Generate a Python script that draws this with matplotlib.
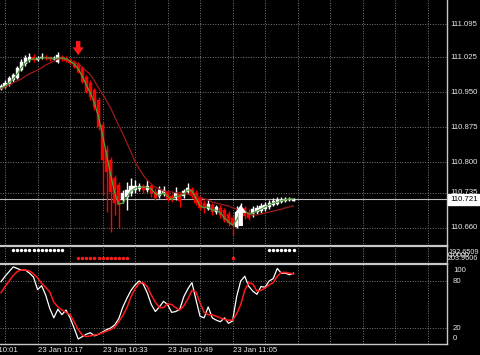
import matplotlib
matplotlib.use('Agg')
import matplotlib.pyplot as plt
from matplotlib.transforms import blended_transform_factory
import numpy as np

plt.rcParams['font.family'] = ['Liberation Sans', 'DejaVu Sans']

# ---------------- data (1-minute bars, 23 Jan 10:08 ... 11:20) ----------------
open_ = [110.957, 110.961, 110.967, 110.976, 110.980, 110.997, 111.010, 111.019, 111.025, 111.019,
         111.023, 111.025, 111.023, 111.021, 111.014, 111.025, 111.023, 111.019, 111.014, 111.010,
         111.002, 110.982, 110.970, 110.955, 110.933, 110.880, 110.826, 110.805, 110.767, 110.752,
         110.720, 110.726, 110.735, 110.741, 110.743, 110.750, 110.741, 110.750, 110.737, 110.728,
         110.733, 110.737, 110.728, 110.724, 110.733, 110.728, 110.737, 110.743, 110.735, 110.724,
         110.713, 110.700, 110.709, 110.694, 110.703, 110.698, 110.690, 110.681, 110.662, 110.690,
         110.703, 110.692, 110.688, 110.694, 110.696, 110.700, 110.705, 110.709, 110.711, 110.715,
         110.718, 110.720, 110.718]
high = [110.967, 110.976, 110.984, 110.991, 111.006, 111.021, 111.029, 111.034, 111.031, 111.027,
        111.034, 111.029, 111.027, 111.027, 111.036, 111.029, 111.027, 111.023, 111.019, 111.014,
        111.006, 110.987, 110.976, 110.959, 110.940, 110.886, 110.837, 110.811, 110.773, 110.758,
        110.741, 110.758, 110.767, 110.762, 110.756, 110.754, 110.762, 110.754, 110.745, 110.750,
        110.750, 110.741, 110.733, 110.747, 110.737, 110.743, 110.756, 110.747, 110.741, 110.728,
        110.720, 110.720, 110.713, 110.709, 110.709, 110.703, 110.696, 110.688, 110.707, 110.713,
        110.707, 110.700, 110.707, 110.709, 110.713, 110.715, 110.720, 110.724, 110.726, 110.726,
        110.726, 110.726, 110.724]
low = [110.955, 110.959, 110.963, 110.972, 110.978, 110.995, 111.006, 111.014, 111.014, 111.016,
       111.021, 111.019, 111.016, 111.019, 111.012, 111.016, 111.014, 111.010, 111.002, 110.991,
       110.970, 110.948, 110.933, 110.912, 110.869, 110.730, 110.694, 110.651, 110.688, 110.660,
       110.713, 110.698, 110.728, 110.735, 110.739, 110.735, 110.737, 110.726, 110.720, 110.724,
       110.728, 110.718, 110.715, 110.720, 110.705, 110.724, 110.733, 110.724, 110.709, 110.698,
       110.692, 110.698, 110.688, 110.690, 110.681, 110.673, 110.664, 110.645, 110.660, 110.685,
       110.679, 110.677, 110.683, 110.690, 110.692, 110.696, 110.700, 110.707, 110.709, 110.713,
       110.715, 110.718, 110.718]
close = [110.963, 110.970, 110.980, 110.987, 111.002, 111.014, 111.023, 111.025, 111.019, 111.023,
         111.025, 111.023, 111.021, 111.023, 111.029, 111.021, 111.016, 111.012, 111.004, 110.993,
         110.972, 110.950, 110.940, 110.918, 110.875, 110.805, 110.779, 110.737, 110.713, 110.709,
         110.735, 110.741, 110.750, 110.750, 110.750, 110.741, 110.750, 110.735, 110.724, 110.741,
         110.741, 110.722, 110.722, 110.735, 110.718, 110.739, 110.745, 110.728, 110.713, 110.703,
         110.705, 110.711, 110.694, 110.705, 110.688, 110.677, 110.671, 110.666, 110.694, 110.703,
         110.685, 110.681, 110.700, 110.703, 110.707, 110.709, 110.713, 110.718, 110.720, 110.720,
         110.722, 110.722, 110.721]
fast_ma = [110.959, 110.963, 110.970, 110.978, 110.989, 111.002, 111.012, 111.019, 111.021, 111.021,
           111.023, 111.023, 111.023, 111.021, 111.023, 111.023, 111.021, 111.016, 111.010, 110.999,
           110.984, 110.965, 110.948, 110.927, 110.897, 110.858, 110.816, 110.773, 110.735, 110.711,
           110.713, 110.726, 110.739, 110.745, 110.747, 110.747, 110.747, 110.743, 110.733, 110.730,
           110.735, 110.728, 110.720, 110.728, 110.728, 110.733, 110.741, 110.739, 110.724, 110.707,
           110.703, 110.705, 110.698, 110.698, 110.692, 110.681, 110.673, 110.666, 110.677, 110.694,
           110.696, 110.690, 110.692, 110.696, 110.700, 110.705, 110.709, 110.713, 110.715, 110.718,
           110.720, 110.722, 110.722]
slow_ma = [110.957, 110.961, 110.965, 110.970, 110.974, 110.978, 110.984, 110.989, 110.993, 110.997,
           111.002, 111.008, 111.012, 111.016, 111.021, 111.021, 111.019, 111.016, 111.014, 111.010,
           111.004, 110.995, 110.987, 110.974, 110.959, 110.946, 110.931, 110.916, 110.897, 110.878,
           110.861, 110.841, 110.822, 110.801, 110.786, 110.773, 110.762, 110.754, 110.747, 110.743,
           110.739, 110.737, 110.737, 110.735, 110.735, 110.733, 110.733, 110.730, 110.728, 110.726,
           110.722, 110.720, 110.715, 110.713, 110.711, 110.709, 110.707, 110.703, 110.700, 110.698,
           110.694, 110.692, 110.688, 110.688, 110.690, 110.692, 110.694, 110.696, 110.698, 110.700,
           110.703, 110.705, 110.707]
stoch_k = [79, 86, 92, 98, 96, 94, 94, 90, 85, 69, 74, 62, 45, 33, 44, 37, 43, 33, 20, 6,
           9, 12, 14, 10, 12, 15, 18, 20, 24, 32, 47, 58, 68, 75, 80, 76, 65, 50, 41, 47,
           54, 50, 40, 41, 44, 60, 70, 78, 56, 35, 33, 47, 33, 30, 28, 33, 26, 29, 60, 80,
           86, 73, 67, 63, 73, 72, 80, 83, 96, 90, 90, 88, 90]
stoch_d = [65, 73, 80, 87, 92, 94, 94, 93, 89, 84, 77, 72, 66, 53, 47, 43, 40, 37, 28, 18,
           11, 9, 10, 11, 12, 14, 16, 18, 21, 28, 36, 46, 60, 70, 77, 78, 73, 62, 53, 46,
           46, 51, 50, 46, 43, 48, 57, 68, 66, 52, 40, 37, 37, 35, 33, 31, 30, 30, 38, 50,
           68, 78, 76, 67, 68, 71, 75, 78, 86, 91, 91, 90, 89]

white_dot_bars = [3, 4, 5, 6, 7, 8, 9, 10, 11, 12, 13, 14, 15, 66, 67, 68, 69, 70, 71, 72]
red_dot_bars = [19, 20, 21, 22, 23, 24, 25, 26, 27, 28, 29, 30, 31, 57]

price_ticks = [111.095, 111.025, 110.950, 110.875, 110.800, 110.735, 110.660]
price_labels = ['111.095', '111.025', '110.950', '110.875', '110.800', '110.735', '110.660']
current_price = 110.721
grid_bars = [1, 9, 17, 25, 33, 41, 49, 57, 65, 73, 81, 89, 97, 105]
time_bars = [-7, 9, 25, 41, 57]
time_labels = ['23 Jan 10:01', '23 Jan 10:17', '23 Jan 10:33', '23 Jan 10:49', '23 Jan 11:05']
sell_arrow = (19, 111.059, 111.029)   # bar, tail, tip
buy_arrow = (59, 110.664, 110.709)
ind_labels = ['192.6509', '0.0000', '203.9606']
stoch_levels = [80, 20]
stoch_scale_labels = ['100', '80', '20', '0']

# ---------------- layout ----------------
W, H = 480, 355
RIGHT = 447
fig = plt.figure(figsize=(W / 100, H / 100), dpi=100, facecolor='black')


def rect(top, bottom):
    return [0, 1 - bottom / H, RIGHT / W, (bottom - top) / H]


ax1 = fig.add_axes(rect(0, 246))
ax2 = fig.add_axes(rect(246, 264))
ax3 = fig.add_axes(rect(264, 344))

x = np.arange(len(close))
xlim = (-0.246, 109.78)
GRID = dict(color='#7a7a7a', lw=0.7, linestyle=(0, (1, 1.6)), zorder=0)
TXT = '#e6e6e6'
FS = 5.6
BORDER = '#c8c8c8'

for ax in (ax1, ax2, ax3):
    ax.set_facecolor('none')
    ax.set_xlim(*xlim)
    ax.set_xticks([])
    ax.set_yticks([])
    for s in ('left', 'top'):
        ax.spines[s].set_visible(False)
    ax.spines['right'].set_color(BORDER)
    ax.spines['right'].set_linewidth(1.0)
    ax.spines['bottom'].set_color(BORDER)
    ax.spines['bottom'].set_linewidth(1.6)
    ax.vlines(grid_bars, 0, 1, transform=blended_transform_factory(ax.transData, ax.transAxes), **GRID)
ax3.spines['bottom'].set_linewidth(1.0)

# ---------------- main price panel ----------------
ax1.set_ylim(110.6215, 111.1467)
ax1.hlines(price_ticks, *xlim, **GRID)
o = np.array(open_); c = np.array(close); h = np.array(high); l = np.array(low)
bull = c >= o
cols = np.where(bull, '#ffffff', '#ff0000')
ax1.vlines(x, l, h, colors=cols, lw=1.0, zorder=2)
body_h = np.maximum(np.abs(c - o), 0.0009)
ax1.bar(x, body_h, bottom=np.minimum(o, c), width=0.78, color=cols, edgecolor=cols, lw=0.3, zorder=3)
ax1.plot(x, slow_ma, color='#a01a1a', lw=0.9, zorder=4)
ax1.plot(x, fast_ma, color='#4f9e3a', lw=0.9, zorder=4)
ax1.axhline(current_price, color='#bdbdbd', lw=0.8, zorder=1)

tr1 = blended_transform_factory(ax1.transAxes, ax1.transData)
for p, lab in zip(price_ticks, price_labels):
    ax1.text(1.0 + 3 / RIGHT, p, lab, transform=tr1, ha='left', va='center', color=TXT,
             fontsize=FS, clip_on=False)
ax1.text(1.0 + 3 / RIGHT, current_price, f'{current_price:.3f}', transform=tr1, ha='left',
         va='center', color='black', fontsize=FS, clip_on=False, zorder=10,
         bbox=dict(boxstyle='square,pad=0.25', facecolor='white', edgecolor='white'))

ARROW = 'simple,head_length=0.7,head_width=1.0,tail_width=0.4'
ax1.annotate('', xy=(sell_arrow[0], sell_arrow[2]), xytext=(sell_arrow[0], sell_arrow[1]),
             arrowprops=dict(arrowstyle=ARROW, color='#ff1a1a', lw=0, mutation_scale=8,
                             shrinkA=0, shrinkB=0), zorder=6)
ax1.annotate('', xy=(buy_arrow[0], buy_arrow[2]), xytext=(buy_arrow[0], buy_arrow[1]),
             arrowprops=dict(arrowstyle=ARROW, color='white', lw=0, mutation_scale=8,
                             shrinkA=0, shrinkB=0), zorder=6)

# ---------------- dots panel ----------------
ax2.set_ylim(0, 1)
ax2.scatter(white_dot_bars, [0.78] * len(white_dot_bars), s=6, color='white', lw=0, zorder=3)
ax2.scatter(red_dot_bars, [0.33] * len(red_dot_bars), s=6, color='#ff1a1a', lw=0, zorder=3)
for lab, yy in zip(ind_labels, [0.64, 0.45, 0.30]):
    ax2.text(1.0 + 1 / RIGHT, yy, lab, transform=ax2.transAxes, ha='left', va='center',
             color=TXT, fontsize=5.2, clip_on=False)

# ---------------- stochastic panel ----------------
ax3.set_ylim(-0.4, 101.7)
ax3.hlines(stoch_levels, *xlim, **GRID)
ax3.plot(x, stoch_k, color='white', lw=0.9, zorder=3)
ax3.plot(x, stoch_d, color='#ff1a1a', lw=1.1, zorder=4)
tr3 = blended_transform_factory(ax3.transAxes, ax3.transData)
for lab, v in zip(stoch_scale_labels, [94, 80, 20, 6]):
    ax3.text(1.0 + 6 / RIGHT, v, lab, transform=tr3, ha='left', va='center', color=TXT,
             fontsize=FS, clip_on=False)

trt = blended_transform_factory(ax3.transData, ax3.transAxes)
for b, lab in zip(time_bars, time_labels):
    ax3.text(b, -0.075, lab, transform=trt, ha='left', va='center', color=TXT,
             fontsize=FS, clip_on=False)

fig.savefig('out.png', dpi=100, facecolor='black')
